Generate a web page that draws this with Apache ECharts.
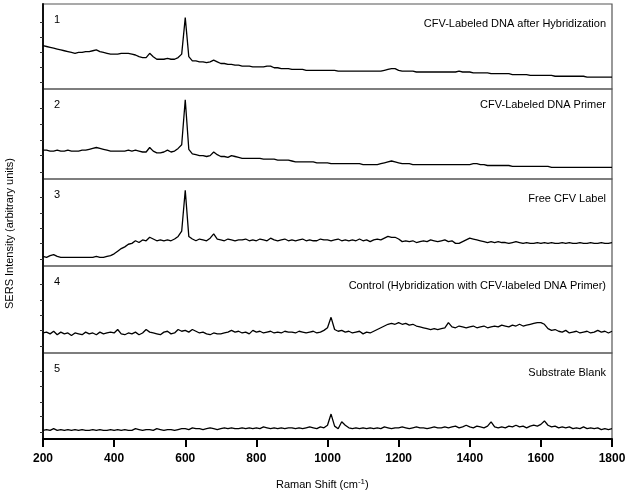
<!DOCTYPE html>
<html>
<head>
<meta charset="utf-8">
<script src="https://cdn.jsdelivr.net/npm/echarts@6/dist/echarts.min.js"></script>
<style>html, body { margin: 0; padding: 0; background: #fff; }</style>
</head>
<body>
<div id="main" style="width: 629px; height: 494px"></div>
<script type="text/javascript">
// Raman shift sampling grid (cm-1), every 10 from 200 to 1800
var shift = [];
for (var s = 200; s <= 1800; s += 10) shift.push(s);

// intensities, in % of each panel height
var spec1 = [
  51,50,49,48,47,46,45,44,43,42,
  43,43,44,44,45,46,44,43,42,41,
  41,41,42,42,42,41,40,38,37,37,
  42,38,35,35,35,36,35,35,37,41,
  84,38,33,33,32,32,31,32,34,32,
  30,30,29,29,28,28,27,27,27,26,
  26,26,26,27,27,25,25,24,24,24,
  23,23,23,23,22,22,22,22,22,22,
  22,22,22,21,21,21,21,21,21,21,
  21,21,21,21,21,21,22,23,24,24,
  22,21,21,21,21,20,20,20,20,20,
  20,20,20,20,20,20,20,21,20,20,
  20,19,19,19,19,19,18,18,18,18,
  18,18,17,17,17,17,17,16,16,16,
  16,16,16,16,15,15,15,15,15,15,
  15,15,15,14,14,14,14,14,14,14,14
];
var spec2 = [
  32,32,31,31,32,31,31,32,31,31,
  31,32,32,33,34,35,34,33,32,31,
  31,31,31,31,32,31,32,31,30,30,
  35,31,29,29,30,32,30,31,34,38,
  88,33,28,27,26,26,25,26,30,27,
  25,25,24,26,25,24,23,23,23,23,
  23,23,22,22,22,22,21,21,21,21,
  20,19,19,19,19,19,19,18,18,18,
  18,17,17,17,17,17,17,17,17,17,
  16,16,16,16,16,17,18,19,20,19,
  18,17,17,17,16,16,16,16,16,16,
  16,16,16,16,16,16,16,16,16,16,
  16,17,17,16,16,15,15,15,15,15,
  15,15,14,14,14,14,14,14,14,14,
  14,14,14,13,13,13,13,13,13,13,
  13,13,13,13,13,13,13,13,13,13,13
];
var spec3 = [
  11,10,12,13,11,10,10,10,10,10,
  10,10,10,10,10,11,10,10,11,12,
  14,17,20,22,25,26,29,27,30,29,
  33,31,29,30,29,30,29,31,34,40,
  87,34,31,29,31,30,29,32,37,31,
  30,29,31,30,29,30,30,31,29,30,
  29,31,30,29,32,30,29,30,31,29,
  30,29,30,31,29,30,29,29,31,30,
  30,29,30,31,29,30,29,30,29,31,
  29,30,28,30,31,30,32,34,33,33,
  31,28,29,28,29,27,28,29,28,30,
  29,28,29,30,28,29,26,26,28,30,
  32,31,30,29,28,27,28,27,28,27,
  27,26,27,28,27,26,27,26,26,27,
  26,27,26,27,26,26,27,26,27,26,
  26,27,26,26,27,26,26,27,26,26,27
];
var spec4 = [
  23,24,22,25,21,24,22,23,20,23,
  22,21,24,22,23,21,24,22,23,24,
  23,27,22,21,23,22,24,21,23,27,
  24,23,22,21,24,25,22,23,27,25,
  26,24,27,25,23,24,22,21,23,22,
  22,23,24,26,24,25,23,24,22,26,
  24,25,23,24,25,23,24,23,25,24,
  24,23,25,24,23,24,25,23,24,26,
  29,41,27,25,26,24,25,23,24,25,
  22,24,23,25,27,29,31,33,34,33,
  35,33,34,32,33,31,30,29,28,27,
  28,27,28,29,35,30,29,31,30,29,
  30,31,29,30,31,29,30,31,30,32,
  31,30,32,31,33,31,32,33,34,35,
  35,33,28,26,27,25,24,26,23,24,
  25,23,24,25,23,24,26,24,25,23,25
];
var spec5 = [
  10,11,10,12,10,11,10,11,10,11,
  10,11,10,10,11,10,11,10,10,11,
  10,11,10,11,10,10,12,11,10,11,
  11,10,12,11,10,11,11,10,11,12,
  12,11,13,12,12,11,12,13,12,11,
  12,13,12,13,12,12,13,12,13,12,
  13,12,14,13,12,13,12,13,12,13,
  13,12,13,12,13,14,13,12,14,13,
  16,29,15,12,20,16,13,12,13,12,
  13,12,13,12,13,12,14,13,12,13,
  13,14,13,12,13,14,13,13,12,13,
  14,13,13,14,13,14,15,13,14,16,
  14,13,15,14,13,15,20,14,13,14,
  13,15,14,16,14,15,13,15,16,15,
  17,21,16,14,15,13,14,13,14,12,
  13,12,14,12,13,12,13,11,12,11,12
];
var spectra = [spec1, spec2, spec3, spec4, spec5];
var panelNums = ['1', '2', '3', '4', '5'];
var panelNames = [
  'CFV-Labeled DNA after Hybridization',
  'CFV-Labeled DNA Primer',
  'Free CFV Label',
  'Control (Hybridization with CFV-labeled DNA Primer)',
  'Substrate Blank'
];
var yTickVals = [8, 26, 43, 61, 79];

// panel geometry (px)
var panelTop = [4, 89, 179, 266, 353];
var panelH = [85, 90, 87, 87, 86];
var font = '"Liberation Sans", Arial, sans-serif';

var myChart = echarts.init(document.getElementById('main'));
var grids = [], xAxes = [], yAxes = [], series = [], graphics = [];

for (var i = 0; i < 5; i++) {
  var last = (i === 4);
  grids.push({
    left: 43, width: 569, top: panelTop[i], height: panelH[i],
    show: true, borderColor: '#555', borderWidth: 1.2
  });
  xAxes.push({
    gridIndex: i, type: 'value', min: 200, max: 1800, interval: 200,
    axisLine: { show: last, onZero: false, lineStyle: { color: '#000', width: 2 } },
    axisTick: { show: last, length: 8, lineStyle: { color: '#000', width: 2 } },
    axisLabel: {
      show: last, color: '#000', fontSize: 12, fontWeight: 'bold', fontFamily: font,
      margin: 14, showMinLabel: true, showMaxLabel: true,
      formatter: function (v) { return String(v); }
    },
    splitLine: { show: false }
  });
  yAxes.push({
    gridIndex: i, type: 'value', min: 0, max: 100,
    axisLine: { show: true, lineStyle: { color: '#111', width: 2 } },
    axisTick: { show: true, length: 3, customValues: yTickVals, lineStyle: { color: '#333' } },
    axisLabel: { show: false },
    splitLine: { show: false }
  });
  var pts = [];
  for (var k = 0; k < shift.length; k++) pts.push([shift[k], spectra[i][k]]);
  series.push({
    type: 'line', xAxisIndex: i, yAxisIndex: i, data: pts,
    showSymbol: false, lineStyle: { color: '#000', width: 1.3 }
  });
  // panel number and caption
  graphics.push({
    type: 'text', left: 54, top: panelTop[i] + 10,
    style: { text: panelNums[i], fill: '#000', font: '11px ' + font }
  });
  graphics.push({
    type: 'text', right: 23, top: panelTop[i] + (i === 1 ? 10 : 14),
    style: { text: panelNames[i], fill: '#000', font: '11px ' + font }
  });
}

// axis titles
graphics.push({
  type: 'text', left: 4, top: 158, rotation: Math.PI / 2,
  style: {
    text: 'SERS Intensity (arbitrary units)', fill: '#000', font: '11px ' + font,
    align: 'center', verticalAlign: 'top'
  }
});
graphics.push({
  type: 'text', left: 276, top: 478,
  style: {
    text: 'Raman Shift (cm{sup|-1})', fill: '#000', font: '11px ' + font,
    rich: { sup: { fontSize: 8, verticalAlign: 'top', padding: [0, 0, 5, 0], fontFamily: font } }
  }
});

var option = {
  backgroundColor: '#fff',
  animation: false,
  grid: grids,
  xAxis: xAxes,
  yAxis: yAxes,
  series: series,
  graphic: graphics
};
myChart.setOption(option);
</script>
</body>
</html>
